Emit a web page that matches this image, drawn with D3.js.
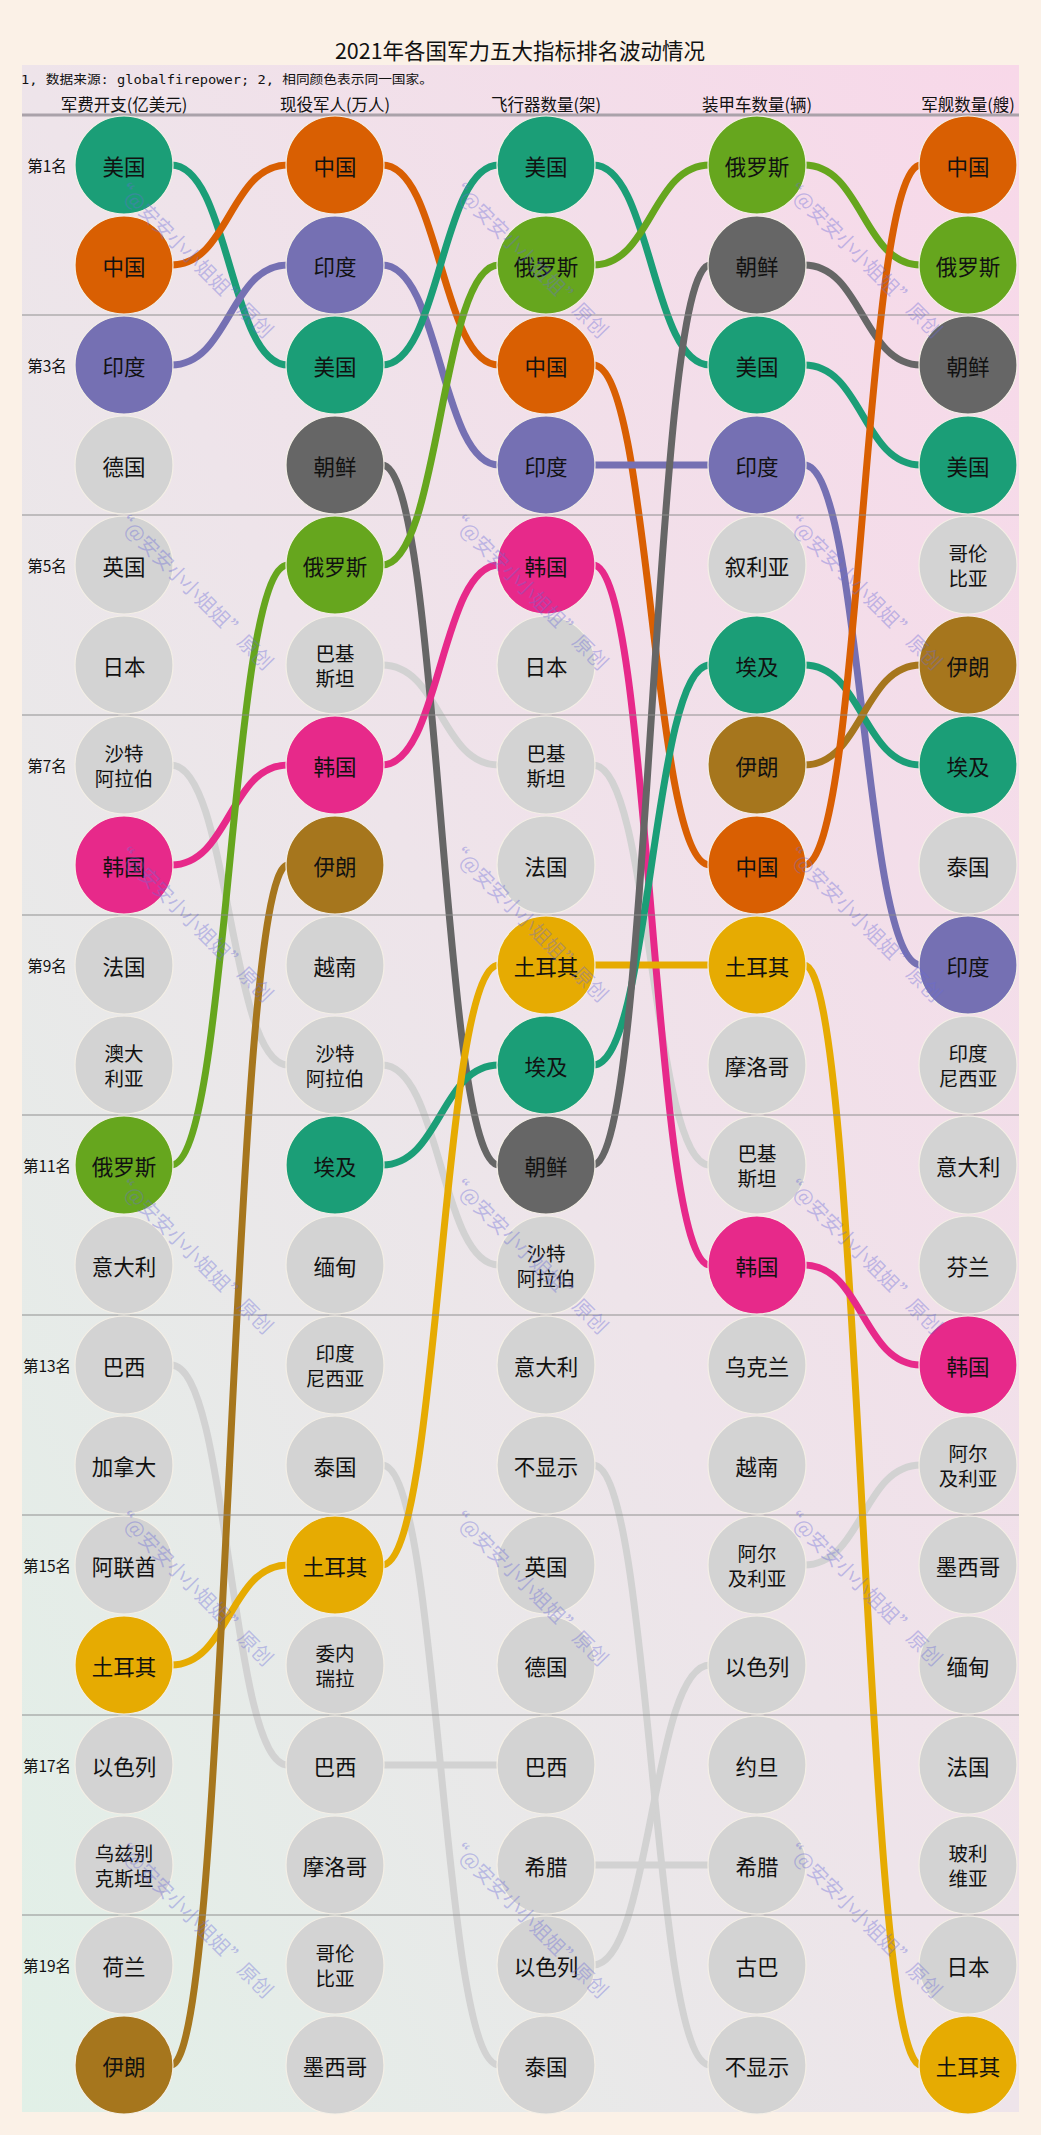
<!DOCTYPE html>
<html><head><meta charset="utf-8">
<script src="https://cdn.jsdelivr.net/npm/d3@7"></script>
<style>
body{margin:0;background:#fbf1e7;}
svg{display:block;}
text{font-family:"Noto Sans CJK SC","Noto Sans",sans-serif;}
</style>
</head><body>
<svg id="chart" width="1041" height="2135"></svg>
<script>
// ---------------- data ----------------
const title = "2021年各国军力五大指标排名波动情况";
const note = "1, 数据来源: globalfirepower; 2, 相同颜色表示同一国家。";
const metrics = ["军费开支(亿美元)", "现役军人(万人)", "飞行器数量(架)", "装甲车数量(辆)", "军舰数量(艘)"];
const militarySpending = ["美国","中国","印度","德国","英国","日本","沙特阿拉伯","韩国","法国","澳大利亚","俄罗斯","意大利","巴西","加拿大","阿联酋","土耳其","以色列","乌兹别克斯坦","荷兰","伊朗"];
const activePersonnel = ["中国","印度","美国","朝鲜","俄罗斯","巴基斯坦","韩国","伊朗","越南","沙特阿拉伯","埃及","缅甸","印度尼西亚","泰国","土耳其","委内瑞拉","巴西","摩洛哥","哥伦比亚","墨西哥"];
const aircraft = ["美国","俄罗斯","中国","印度","韩国","日本","巴基斯坦","法国","土耳其","埃及","朝鲜","沙特阿拉伯","意大利","不显示","英国","德国","巴西","希腊","以色列","泰国"];
const armoredVehicles = ["俄罗斯","朝鲜","美国","印度","叙利亚","埃及","伊朗","中国","土耳其","摩洛哥","巴基斯坦","韩国","乌克兰","越南","阿尔及利亚","以色列","约旦","希腊","古巴","不显示"];
const navalShips = ["中国","俄罗斯","朝鲜","美国","哥伦比亚","伊朗","埃及","泰国","印度","印度尼西亚","意大利","芬兰","韩国","阿尔及利亚","墨西哥","缅甸","法国","玻利维亚","日本","土耳其"];
const highlighted = ["美国","中国","印度","韩国","俄罗斯","土耳其","伊朗","朝鲜","埃及"];
const rankTicks = [1,3,5,7,9,11,13,15,17,19];
const rankTickLabels = ["第1名","第3名","第5名","第7名","第9名","第11名","第13名","第15名","第17名","第19名"];
const watermark = "“@安安小小姐姐”原创";

const rankings = [militarySpending, activePersonnel, aircraft, armoredVehicles, navalShips];

// ---------------- layout ----------------
const svg = d3.select("#chart");
const W = 1041, H = 2135;
const R = 49;
const x = d3.scalePoint().domain(metrics).range([124, 968]);
const y = d3.scaleLinear().domain([1, 20]).range([165, 2065]);
const color = d3.scaleOrdinal().domain(highlighted).range(d3.schemeDark2);
const grey = "#d3d3d3";
const isHi = n => highlighted.includes(n);

const defs = svg.append("defs");
const grad = defs.append("linearGradient").attr("id","bg")
  .attr("x1","1").attr("y1","0").attr("x2","0").attr("y2","1");
grad.append("stop").attr("offset","0%").attr("stop-color","#f8d8e9");
grad.append("stop").attr("offset","50%").attr("stop-color","#eee4ea");
grad.append("stop").attr("offset","100%").attr("stop-color","#e1f0e7");

svg.append("rect").attr("width",W).attr("height",H).attr("fill","#fbf1e7");
svg.append("rect").attr("x",22).attr("y",65).attr("width",997).attr("height",2047).attr("fill","url(#bg)");

// title & note
svg.append("text").attr("x",520).attr("y",49).attr("text-anchor","middle")
  .attr("dominant-baseline","central").attr("font-size",21.5).attr("fill","#111").text(title);
svg.append("text").attr("x",21).attr("y",79).attr("dominant-baseline","central")
  .style("font-family","'DejaVu Sans Mono','Noto Sans CJK SC',monospace")
  .attr("font-size",12.5).attr("fill","#111").attr("textLength",412).attr("lengthAdjust","spacingAndGlyphs").text(note);

// headers
svg.append("g").selectAll("text").data(metrics).join("text")
  .attr("x", d => x(d)).attr("y", 104).attr("text-anchor","middle")
  .attr("dominant-baseline","central").attr("font-size",16.5).attr("fill","#111").text(d => d);

// links
const link = d3.linkHorizontal().x(d => d[0]).y(d => d[1]);
const links = [];
for (let i = 0; i < rankings.length - 1; i++) {
  rankings[i].forEach((name, j) => {
    const k = rankings[i + 1].indexOf(name);
    if (k >= 0) links.push({name, source:[x(metrics[i]) + R - 2, y(j + 1)], target:[x(metrics[i + 1]) - R + 2, y(k + 1)]});
  });
}
links.sort((a, b) => (isHi(a.name) ? 1 : 0) - (isHi(b.name) ? 1 : 0));
svg.append("g").attr("fill","none").selectAll("path").data(links).join("path")
  .attr("d", d => link(d))
  .attr("stroke", d => isHi(d.name) ? color(d.name) : "#d2d2d2")
  .attr("stroke-width", 7);

// separators
const seps = d3.range(0, 10).map(i => y(1) - 50 + i * 200);
svg.append("g").selectAll("line").data(seps).join("line")
  .attr("x1",22).attr("x2",1019).attr("y1",d=>d).attr("y2",d=>d)
  .attr("stroke", (d,i) => i === 0 ? "#aaa2aa" : "#8f8f8f")
  .attr("stroke-opacity", (d,i) => i === 0 ? 1 : 0.65)
  .attr("stroke-width", (d,i) => i === 0 ? 3 : 1.5);

// rank labels
svg.append("g").selectAll("text").data(rankTicks).join("text")
  .attr("x",47).attr("y",d => y(d)).attr("text-anchor","middle").attr("dominant-baseline","central")
  .attr("font-size",15.5).attr("fill","#111").text((d,i) => rankTickLabels[i]);

// nodes
const nodes = [];
rankings.forEach((arr, i) => arr.forEach((name, j) => nodes.push({name, cx:x(metrics[i]), cy:y(j + 1)})));
const g = svg.append("g").selectAll("g").data(nodes).join("g")
  .attr("transform", d => `translate(${d.cx},${d.cy})`);
g.append("circle").attr("r", R)
  .attr("fill", d => isHi(d.name) ? color(d.name) : grey)
  .attr("stroke", "#f4efe6").attr("stroke-width", 1.2);
g.each(function(d) {
  const n = d.name;
  if (n.length >= 4) {
    const cut = Math.floor(n.length / 2);
    [n.slice(0, cut), n.slice(cut)].forEach((s, i) => {
      d3.select(this).append("text").attr("text-anchor","middle")
        .attr("font-size",19.5).attr("fill","#111")
        .attr("x",0).attr("y", i === 0 ? -12.5 : 12.5).attr("dominant-baseline","central").text(s);
    });
  } else {
    d3.select(this).append("text").attr("text-anchor","middle")
      .attr("font-size",21.5).attr("fill","#111")
      .attr("y",0).attr("dominant-baseline","central").text(n);
  }
});

// watermark
const wmX = [193, 528, 862];
const wmY = d3.range(0, 6).map(i => 256 + i * 332);
const wm = [];
wmY.forEach(yy => wmX.forEach(xx => wm.push([xx, yy])));
svg.append("g").selectAll("text").data(wm).join("text")
  .attr("transform", d => `translate(${d[0]},${d[1]}) rotate(45)`)
  .attr("text-anchor","middle").attr("dominant-baseline","central")
  .attr("font-size",20).attr("fill","#6a6ad8").attr("fill-opacity",0.38).text(watermark);
</script>
</body></html>
